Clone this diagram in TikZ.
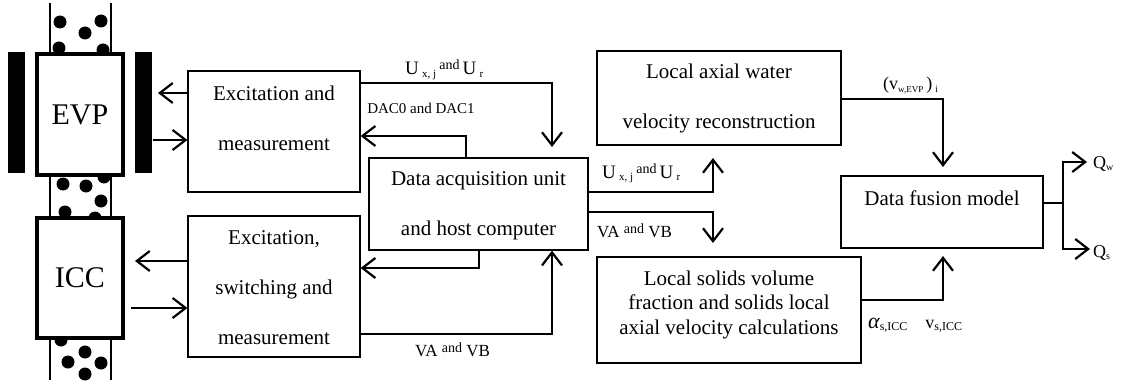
\documentclass[tikz,border=0pt]{standalone}
\usepackage{fontspec}
\setmainfont{Liberation Serif}
\usetikzlibrary{arrows.meta}
% lowered subscript and raised small "and"
\newcommand{\lo}[2][11]{\raisebox{-2.5pt}{\fontsize{#1}{#1}\selectfont #2}}
\newcommand{\hiand}[1][5pt]{\raisebox{#1}{\fontsize{14}{14}\selectfont and}}

\begin{document}
\begin{tikzpicture}[x=1pt,y=-1pt,
  blk/.style={draw, line width=1.2pt, fill=white, inner sep=0pt},
  probe/.style={draw, line width=4pt, fill=white, inner sep=0pt, font=\fontsize{30}{30}\selectfont},
  txt/.style={align=center, inner sep=0pt, font=\fontsize{21}{50}\selectfont},
  lab/.style={inner sep=0pt, anchor=base west, font=\fontsize{19}{19}\selectfont},
  conn/.style={line width=2.2pt},
  arr/.style={conn, -{Straight Barb[length=13pt,width=20pt]}},
  wall/.style={line width=1.3pt},
  bead/.style={fill=black},
  electrode/.style={fill=black}
]
\useasboundingbox (0,0) rectangle (1123,385);

% pipe walls and solids particles
\draw[wall] (50,3) -- (50,380);
\draw[wall] (111,3) -- (111,380);
\foreach \p in {(60,22),(101,21),(85,33),(59,48),(103,50),
                (63,184),(86,186),(104,177),(101,201),(65,212),(95,218),
                (61,340),(85,352),(68,362),(101,363),(85,374)}
  \fill[bead] \p circle (6.5);

% EVP electrodes
\fill[electrode] (8,52) rectangle (25,173);
\fill[electrode] (135,52) rectangle (152,173);

% sensors
\node[probe, minimum width=86pt, minimum height=121pt] (evp) at (80,114.5) {EVP};
\node[probe, minimum width=86pt, minimum height=120pt] (icc) at (80,278) {ICC};

% processing blocks
\node[blk, minimum width=172pt, minimum height=121pt] (em) at (274,131.5) {};
\node[txt] (emt) at (274,118) {Excitation and\\measurement};

\node[blk, minimum width=172pt, minimum height=141pt] (e2) at (274,286.5) {};
\node[txt] (e2t) at (274,288) {Excitation,\\switching and\\measurement};

\node[blk, minimum width=219pt, minimum height=92pt] (daq) at (478.5,204) {};
\node[txt] (daqt) at (478.5,206) {Data acquisition unit\\and host computer};

\node[blk, minimum width=244pt, minimum height=94pt] (law) at (719,98) {};
\node[txt] (lawt) at (719,98.5) {Local axial water\\velocity reconstruction};

\node[blk, minimum width=264pt, minimum height=106pt] (sol) at (729,310) {};
\node[txt, font=\fontsize{21}{24.5}\selectfont] (solt) at (729,304.5)
  {Local solids volume\\fraction and solids local\\axial velocity calculations};

\node[blk, minimum width=202pt, minimum height=72pt] (fus) at (942,212) {};
\node[txt] (fust) at (942,198) {Data fusion model};

% connector bends and free ends
\coordinate (evpIn) at (158,93);
\coordinate (evpOut) at (153,140);
\coordinate (iccIn) at (135,261);
\coordinate (iccOut) at (131,308);
\coordinate (ux1) at (552,83);
\coordinate (ux1tip) at (552,147);
\coordinate (dacx) at (466,136);
\coordinate (e2x) at (479,268);
\coordinate (vax) at (552,334);
\coordinate (ux2) at (713,192);
\coordinate (ux2tip) at (713,158);
\coordinate (va2) at (713,212);
\coordinate (va2tip) at (713,243);
\coordinate (vw) at (943,99);
\coordinate (vwtip) at (943,167);
\coordinate (as) at (943,300);
\coordinate (astip) at (943,256);
\coordinate (sp) at (1063,203);
\coordinate (qw) at (1087,162);
\coordinate (qs) at (1090,249);

% connectors
\draw[arr] (em.west |- evpIn) -- (evpIn);
\draw[arr] (evpOut) -- (evpOut -| em.west);
\draw[arr] (e2.west |- iccIn) -- (iccIn);
\draw[arr] (iccOut) -- (iccOut -| e2.west);
\draw[arr] (em.east |- ux1) -- (ux1) -- (ux1tip);
\draw[arr] (daq.north -| dacx) |- (em.east |- dacx);
\draw[arr] (daq.south -| e2x) |- (e2.east |- e2x);
\draw[arr] (e2.east |- vax) -| (daq.south -| vax);
\draw[arr] (daq.east |- ux2) -- (ux2) -- (ux2tip);
\draw[arr] (daq.east |- va2) -- (va2) -- (va2tip);
\draw[arr] (law.east |- vw) -- (vw) -- (vwtip);
\draw[arr] (sol.east |- as) -- (as) -- (astip);
\draw[conn] (fus.east |- sp) -- (sp);
\draw[arr] (sp) |- (qw);
\draw[arr] (sp) |- (qs);

% signal labels
\node[lab] (lux1) at (405,75) {U\,\lo{x, j}\,\hiand\,U\,\lo{r}};
\node[inner sep=0pt, font=\fontsize{15}{15}\selectfont] (ldac) at (421,108) {DAC0 and DAC1};
\node[lab] (lux2) at (602,178) {U\,\lo{x, j}\,\hiand\,U\,\lo{r}};
\node[lab, font=\fontsize{17}{17}\selectfont] (lva1) at (597,237) {VA \hiand[3.5pt] VB};
\node[lab, font=\fontsize{17}{17}\selectfont] (lva2) at (415,356) {VA \hiand[3.5pt] VB};
\node[lab, font=\fontsize{18}{18}\selectfont] (lvw) at (883,90) {(v\lo[9]{w,EVP}\,)\,\lo[10]{i}};
\node[lab, font=\fontsize{18}{18}\selectfont] (las) at (868,328)
  {{\fontsize{22}{22}\selectfont\itshape α}\lo[12]{s,ICC}\quad v\lo[12]{s,ICC}};
\node[lab, font=\fontsize{18}{18}\selectfont] (lqw) at (1093,168) {Q\lo[10]{w}};
\node[lab, font=\fontsize{18}{18}\selectfont] (lqs) at (1093,257) {Q\lo[10]{s}};
\end{tikzpicture}
\end{document}
